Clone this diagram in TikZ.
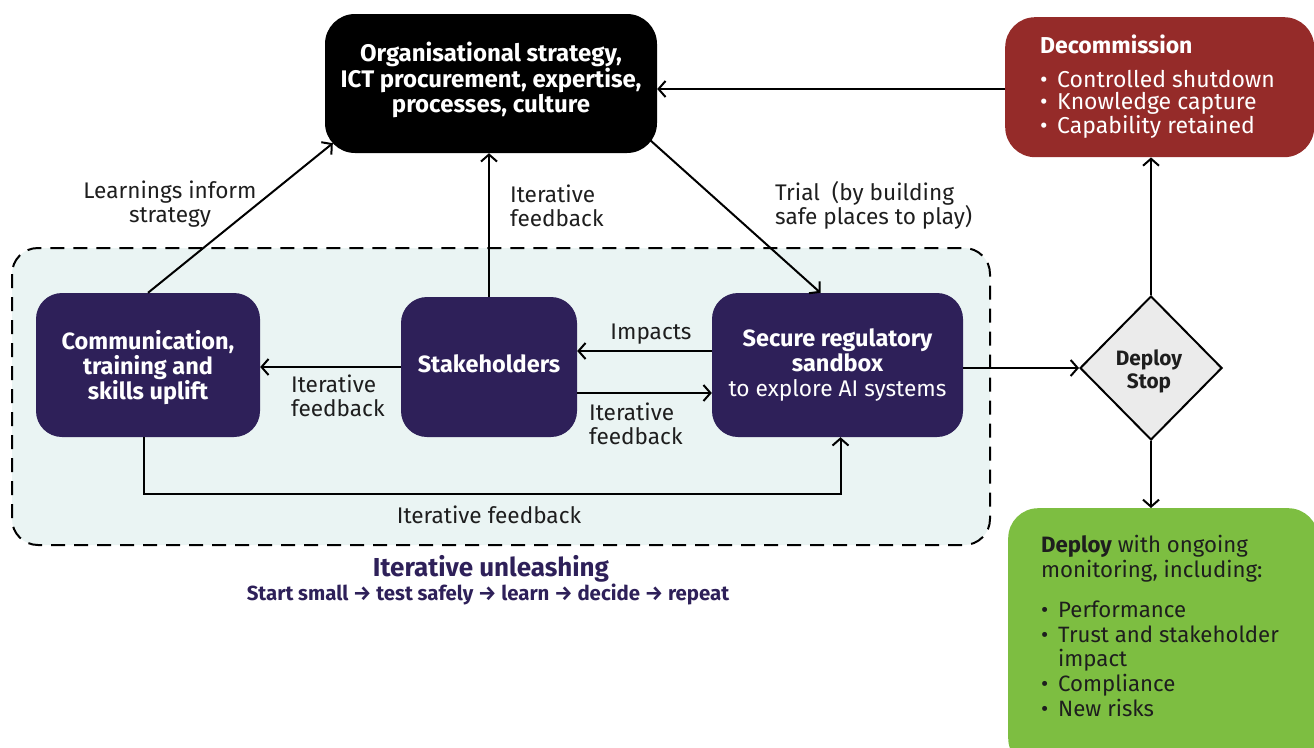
\documentclass[tikz,border=0pt]{standalone}
\usepackage{fontspec}
\setmainfont{Fira Sans}
\usetikzlibrary{shapes.geometric,arrows.meta}
\definecolor{navy}{HTML}{2E2059}
\definecolor{brick}{HTML}{952B29}
\definecolor{leaf}{HTML}{7DBE41}
\definecolor{zone}{HTML}{EAF4F3}
\definecolor{greyfill}{HTML}{EBEBEB}
\definecolor{ink}{HTML}{1E1E1E}
\tikzset{
  arr/.style={draw=black, line width=2pt, -{Straight Barb[length=7pt,width=16pt,line width=2pt]}},
  darkbox/.style={rectangle, rounded corners=30pt, fill=black, text=white, align=center,
    font=\fontsize{24}{24.5}\selectfont\bfseries},
  navybox/.style={rectangle, rounded corners=26pt, fill=navy, text=white, align=center,
    font=\fontsize{23.5}{25}\selectfont\bfseries},
  lbl/.style={text=ink, font=\fontsize{22.6}{24}\selectfont, inner sep=0pt},
  bul/.style={text=white, font=\fontsize{23}{22.5}\selectfont, align=left, inner sep=0pt},
}
\newcommand{\bitem}{\makebox[17pt][l]{•}}
\begin{document}
\begin{tikzpicture}[x=1pt,y=-1pt]
\useasboundingbox (0,0) rectangle (1314,747);
\clip (0,0) rectangle (1314,747);

% shaded iteration zone
\draw[fill=zone, line width=2pt, dash pattern=on 14pt off 9pt, rounded corners=26pt]
  (12,248) rectangle (990,545);

% main nodes
\node[darkbox, minimum width=332pt, minimum height=139pt] (strategy) at (491,83.5) {};
\node[darkbox, fill=none, inner sep=0pt] (strategytext) at (491,80)
  {Organisational strategy,\\ICT procurement, expertise,\\processes, culture};
\node[navybox, minimum width=224pt, minimum height=144pt] (comm) at (148,365) {};
\node[navybox, fill=none, inner sep=0pt] (commtext) at (148,368)
  {Communication,\\training and\\skills uplift};
\node[navybox, minimum width=176pt, minimum height=140pt] (stake) at (489,367) {};
\node[navybox, fill=none, inner sep=0pt] (staketext) at (489,364) {Stakeholders};
\node[navybox, minimum width=251pt, minimum height=144pt] (secure) at (837.5,365)
  {Secure regulatory\\sandbox\\{\mdseries\fontsize{22.7}{25}\selectfont to explore AI systems}};
\node[diamond, draw=black, line width=2pt, fill=greyfill, minimum width=142pt,
  minimum height=144pt, inner sep=0pt] (dia) at (1151,368) {};
\node[text=ink, align=center, inner sep=0pt, font=\fontsize{20.8}{23}\selectfont\bfseries]
  (diatext) at (1149,371) {Deploy\\Stop};

% decommission box
\node[rectangle, rounded corners=30pt, fill=brick, minimum width=309pt,
  minimum height=140pt, anchor=north west] (decom) at (1005,17) {};
\node[bul, anchor=north west] (decomtext) at (1040,34.5)
  {{\bfseries Decommission}\\[11.5pt]\bitem Controlled shutdown\\\bitem Knowledge capture\\\bitem Capability retained};

% deploy box
\node[rectangle, rounded corners=30pt, fill=leaf, minimum width=310pt,
  minimum height=260pt, anchor=north west] (deploy) at (1008,508) {};
\node[bul, text=ink, font=\fontsize{22.2}{24.6}\selectfont, anchor=north west] (deploytext) at (1041,535)
  {{\bfseries Deploy} with ongoing\\monitoring, including:\\[16pt]\bitem Performance\\\bitem Trust and stakeholder\\\hspace*{17pt}impact\\\bitem Compliance\\\bitem New risks};

% connectors
\draw[arr] (comm.north) -- ([xshift=8pt,yshift=10pt]strategy.south west);
\draw[arr] (stake.north) -- (stake.north |- strategy.south);
\draw[arr] ([xshift=-7pt,yshift=13pt]strategy.south east) -- ([xshift=-17pt]secure.north);
\draw[arr] (stake.west) -- (stake.west -| comm.east);
\draw[arr] ([yshift=14pt]secure.west) -- ([yshift=14pt]secure.west -| stake.east);
\draw[arr] ([yshift=-28pt]stake.east |- secure.west) -- ([yshift=-28pt]secure.west);
\draw[arr] ([xshift=-4pt]comm.south) -- ++(0,57) -| ([xshift=3pt]secure.south);
\draw[arr] (dia.west -| secure.east) -- (dia.west);
\draw[arr] (dia.north) -- (dia.north |- decom.south);
\draw[arr] (dia.south) -- (dia.south |- deploy.north);
\draw[arr] (decom.west |- 0,89) -- (strategy.east |- 0,89);

% connector labels
\node[lbl, align=center] (l1) at (170,204) {Learnings inform\\strategy};
\node[lbl, align=left, anchor=west] (l2) at (510,206) {Iterative\\feedback};
\node[lbl, align=left, anchor=west] (l3) at (775,205) {Trial\ \ (by building\\safe places to play)};
\node[lbl] (l4) at (651,334) {Impacts};
\node[lbl, align=left, anchor=west] (l5) at (291,396) {Iterative\\feedback};
\node[lbl, align=left, anchor=west] (l6) at (589,424) {Iterative\\feedback};
\node[lbl] (l7) at (489,515) {Iterative feedback};

% caption
\node[text=navy, font=\fontsize{26}{28}\selectfont\bfseries, inner sep=0pt] (cap) at (491,569) {Iterative unleashing};
\node[text=navy, font=\fontsize{20.4}{22}\selectfont\bfseries, inner sep=0pt] (sub) at (488,594)
  {Start small → test safely → learn → decide → repeat};
\end{tikzpicture}
\end{document}
